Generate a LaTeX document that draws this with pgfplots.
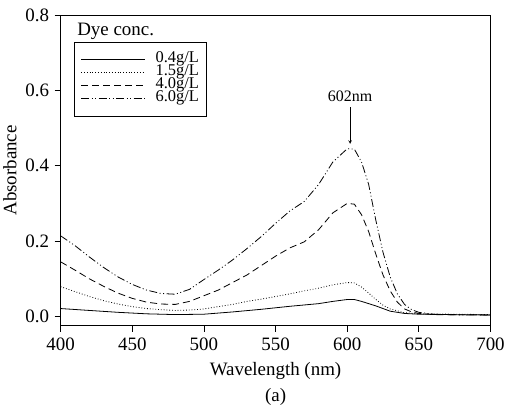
\documentclass[border=0pt]{standalone}
\usepackage{fontspec}
\setmainfont{Liberation Serif}
\usepackage{pgfplots}
\pgfplotsset{compat=1.18}
\begin{document}
\begin{tikzpicture}
\begin{axis}[
  name=main,
  scale only axis, width=430bp, height=311bp,
  xmin=400, xmax=700, ymin=-0.025, ymax=0.8,
  xtick={400,450,...,700}, ytick={0,0.2,0.4,0.6,0.8},
  tick pos=left, tick align=outside, major tick length=6bp,
  /pgf/number format/assume math mode=true,
  yticklabel style={/pgf/number format/fixed,/pgf/number format/precision=1,/pgf/number format/fixed zerofill, xshift=-2bp},
  xticklabel style={yshift=-3bp},
  ticklabel style={font=\fontsize{19}{19}\selectfont},
  xlabel={Wavelength (nm)}, ylabel={Absorbance},
  label style={font=\fontsize{19}{19}\selectfont},
  xlabel style={yshift=-4bp}, ylabel style={yshift=2bp},
  axis line style={line width=0.8bp},
  every tick/.style={black, line width=0.8bp},
  legend style={at={(rel axis cs:0.03,0.913)}, anchor=north west, draw=black, line width=0.6bp,
    row sep=0pt, inner xsep=7bp, inner ysep=11bp,
    nodes={font=\fontsize{16.5}{16.5}\selectfont, inner sep=0pt, text height=9bp, text depth=4bp}},
  legend cell align=left,
  /tikz/every odd column/.append style={column sep=10bp},
  legend image code/.code={\draw[#1, line width=0.8bp] (0bp,0bp) -- (64bp,0bp);},
  every axis plot/.append style={black, line width=0.8bp},
]
\addplot[solid] coordinates {(400,0.021)(420,0.016)(440,0.011)(460,0.007)(480,0.005)(500,0.006)(520,0.012)(540,0.019)(560,0.027)(580,0.034)(590,0.040)(600,0.045)(605,0.045)(610,0.040)(620,0.028)(630,0.014)(640,0.008)(650,0.006)(670,0.005)(700,0.004)};
\addlegendentry{0.4g/L}
\addplot[dotted] coordinates {(400,0.079)(410,0.066)(420,0.053)(430,0.042)(440,0.033)(450,0.026)(460,0.021)(470,0.018)(480,0.016)(490,0.017)(500,0.020)(510,0.026)(520,0.032)(530,0.040)(540,0.046)(550,0.053)(560,0.060)(570,0.068)(580,0.075)(590,0.084)(600,0.090)(605,0.089)(610,0.078)(615,0.062)(620,0.045)(625,0.030)(630,0.020)(640,0.010)(650,0.007)(700,0.005)};
\addlegendentry{1.5g/L}
\addplot[dash pattern=on 7bp off 4bp] coordinates {(400,0.145)(410,0.123)(420,0.100)(430,0.080)(440,0.062)(450,0.048)(460,0.038)(470,0.033)(480,0.032)(490,0.040)(500,0.055)(510,0.070)(520,0.090)(530,0.110)(540,0.135)(550,0.160)(560,0.182)(570,0.198)(580,0.230)(590,0.275)(600,0.300)(605,0.298)(610,0.270)(615,0.225)(620,0.165)(625,0.110)(630,0.068)(635,0.038)(640,0.020)(645,0.012)(650,0.008)(660,0.005)(700,0.004)};
\addlegendentry{4.0g/L}
\addplot[dash pattern=on 8bp off 2.5bp on 1bp off 2.5bp on 1bp off 2.5bp] coordinates {(400,0.214)(410,0.188)(420,0.158)(430,0.130)(440,0.105)(450,0.085)(460,0.070)(470,0.061)(480,0.059)(490,0.072)(500,0.098)(510,0.123)(520,0.150)(530,0.180)(540,0.212)(550,0.247)(560,0.280)(570,0.305)(580,0.350)(590,0.410)(600,0.445)(605,0.444)(610,0.410)(615,0.350)(620,0.255)(625,0.170)(630,0.105)(635,0.060)(640,0.032)(645,0.018)(650,0.011)(660,0.006)(680,0.004)(700,0.004)};
\addlegendentry{6.0g/L}
\node[font=\fontsize{19}{19}\selectfont] at (rel axis cs:0.128,0.948) {Dye conc.};
\node[font=\fontsize{16}{16}\selectfont] at (axis cs:602,0.585) {602nm};
\draw[-stealth, line width=0.6bp] (axis cs:602,0.555) -- (axis cs:602,0.458);
\end{axis}
\path ([yshift=15bp]main.north) -- ([yshift=-83bp]main.south);
\node[font=\fontsize{19}{19}\selectfont] at ([yshift=-71bp]main.south) {(a)};
\end{tikzpicture}
\end{document}
